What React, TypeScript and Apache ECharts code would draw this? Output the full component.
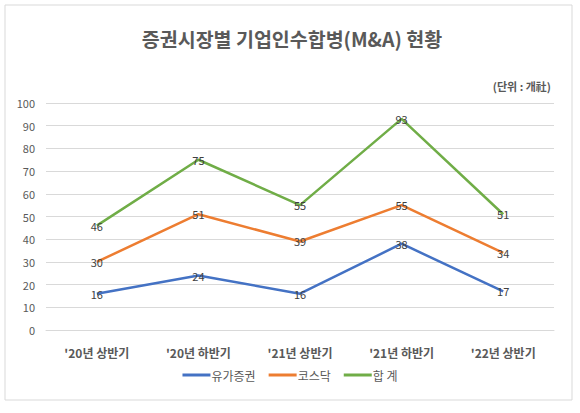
import React, { useEffect, useRef } from "react";
import * as echarts from "echarts";

const categories = ["'20년 상반기", "'20년 하반기", "'21년 상반기", "'21년 하반기", "'22년 상반기"];
const kospi = [16, 24, 16, 38, 17];
const kosdaq = [30, 51, 39, 55, 34];
const total = [46, 75, 55, 93, 51];
const seriesNames = ["유가증권", "코스닥", "합 계"];
const colors = ["#4472C4", "#ED7D31", "#70AD47"];
const titleText = "증권시장별 기업인수합병(M&A) 현황";
const unitText = "(단위 : 개社)";

const FONT = "'Noto Sans CJK KR', 'Noto Sans', sans-serif";

export default function App() {
  const ref = useRef<HTMLDivElement>(null);
  useEffect(() => {
    document.body.style.margin = "0";
    if (!ref.current) return;
    const chart = echarts.init(ref.current, undefined, { renderer: "svg" });
    const mk = (name: string, data: number[], color: string) => ({
      name,
      type: "line",
      data,
      showSymbol: true,
      symbol: "circle",
      symbolSize: 0,
      lineStyle: { width: 2.5, color },
      itemStyle: { color },
      label: {
        show: true,
        position: "inside",
        color: "#404040",
        fontSize: 11,
        fontFamily: FONT,
      },
    });
    chart.setOption({
      animation: false,
      backgroundColor: "#ffffff",
      textStyle: { fontFamily: FONT },
      graphic: [
        {
          type: "rect",
          shape: { x: 5, y: 5, width: 567, height: 395 },
          style: { fill: "none", stroke: "#d9d9d9", lineWidth: 1 },
          silent: true,
        },
        {
          type: "text",
          x: 292,
          y: 38,
          style: {
            text: titleText,
            fill: "#595959",
            fontSize: 19.5,
            fontWeight: "bold",
            fontFamily: FONT,
            align: "center",
            verticalAlign: "middle",
          },
        },
        {
          type: "text",
          x: 551,
          y: 86,
          style: {
            text: unitText,
            fill: "#595959",
            fontSize: 11,
            fontWeight: "bold",
            fontFamily: FONT,
            align: "right",
            verticalAlign: "middle",
          },
        },
      ],
      grid: { left: 46, right: 26, top: 103, bottom: 83, containLabel: false },
      legend: {
        data: seriesNames,
        bottom: 27,
        left: "center",
        icon: "rect",
        itemWidth: 28,
        itemHeight: 3,
        itemGap: 13,
        textStyle: { color: "#595959", fontSize: 12, fontFamily: FONT, padding: [0, 0, 0, -4] },
      },
      xAxis: {
        type: "category",
        data: categories,
        boundaryGap: true,
        axisLine: { show: true, lineStyle: { color: "#d9d9d9" } },
        axisTick: { show: false },
        axisLabel: { color: "#595959", fontSize: 12, fontWeight: "bold", margin: 16, fontFamily: FONT },
      },
      yAxis: {
        type: "value",
        min: 0,
        max: 100,
        interval: 10,
        axisLine: { show: false },
        axisTick: { show: false },
        axisLabel: { color: "#595959", fontSize: 11, margin: 11, fontFamily: FONT },
        splitLine: { lineStyle: { color: "#d9d9d9" } },
      },
      series: [
        mk(seriesNames[0], kospi, colors[0]),
        mk(seriesNames[1], kosdaq, colors[1]),
        mk(seriesNames[2], total, colors[2]),
      ],
    });
    return () => chart.dispose();
  }, []);
  return <div ref={ref} style={{ width: 580, height: 413 }} />;
}
